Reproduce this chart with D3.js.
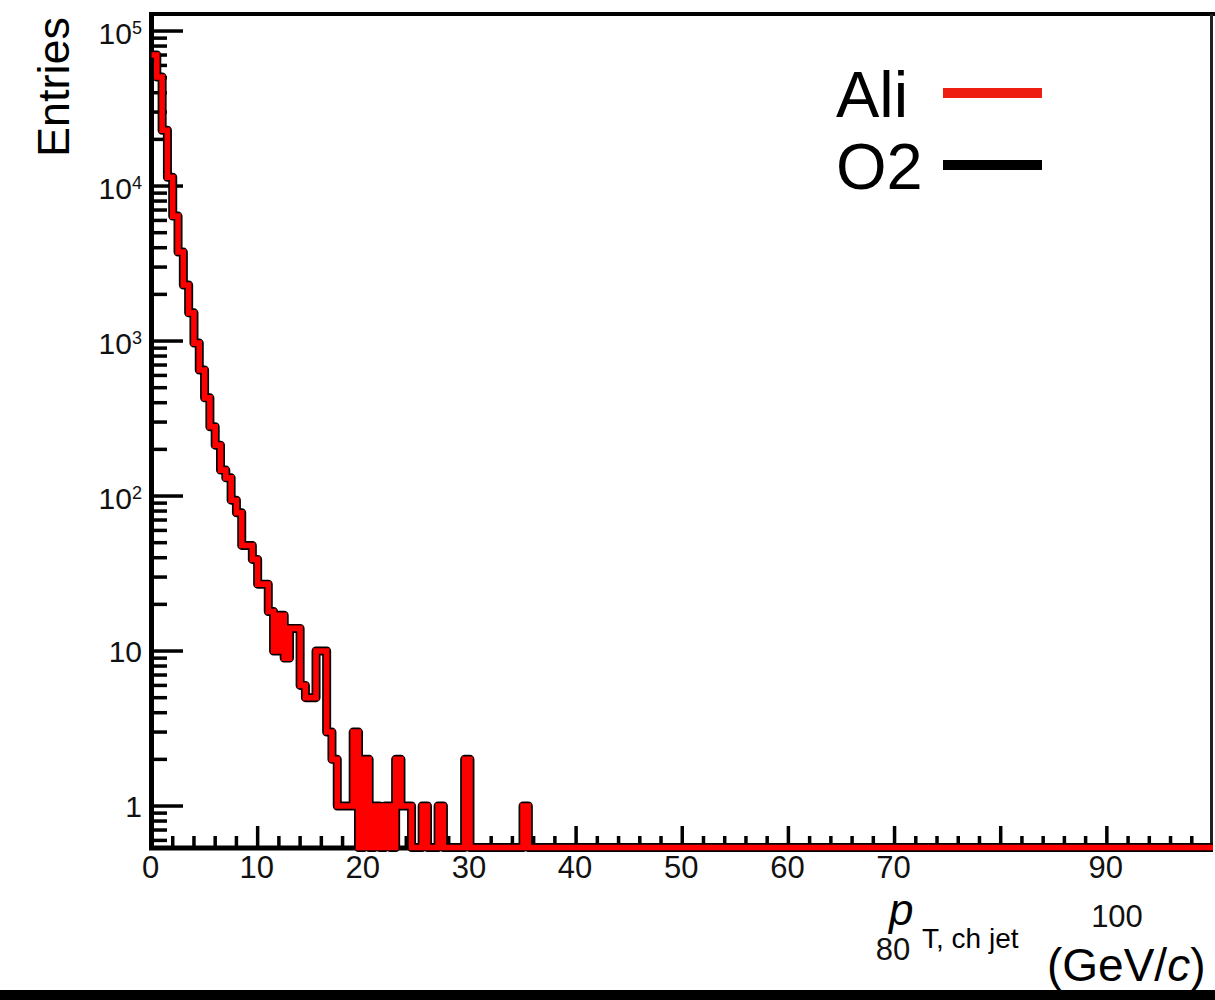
<!DOCTYPE html>
<html>
<head>
<meta charset="utf-8">
<script src="https://cdn.jsdelivr.net/npm/d3@7/dist/d3.min.js"></script>
<style>
  html, body { margin: 0; padding: 0; background: #fff; }
  svg { display: block; }
  text { font-family: "Liberation Sans", Arial, Helvetica, sans-serif; }
</style>
</head>
<body>
<svg id="chart" width="1215" height="1000"></svg>
<script>
// p_T, ch jet histogram, 0.5 GeV/c bins starting at 0 (bins past the list are empty)
const binWidth = 0.5;
const xDomain = [0, 100];
const yDomain = [0.54, 128800];

const aliCounts = [
  70000, 50500, 22900, 11400, 6400, 3750, 2300, 1520, 970, 650,
  430, 280, 213, 147, 131, 94, 78, 48, 48, 39,
  27, 27, 18, 10, 17, 9, 14, 14, 6, 5,
  5, 10, 10, 3, 2, 1, 1, 1, 3, 0,
  2, 0, 1, 0, 1, 0, 2, 1, 1, 0,
  0, 1, 0, 0, 1, 0, 0, 0, 0, 2,
  0, 0, 0, 0, 0, 0, 0, 0, 0, 0,
  1
];
const o2Counts = [
  70000, 50500, 22900, 11400, 6400, 3750, 2300, 1520, 970, 650,
  430, 280, 213, 147, 131, 94, 78, 48, 48, 39,
  27, 27, 18, 10, 17, 9, 14, 14, 6, 5,
  5, 10, 10, 3, 2, 1, 1, 1, 3, 0,
  2, 0, 1, 0, 1, 0, 2, 1, 1, 0,
  0, 1, 0, 0, 1, 0, 0, 0, 0, 2,
  0, 0, 0, 0, 0, 0, 0, 0, 0, 0,
  1
];

const seriesNames = ['Ali', 'O2'];
const xMajorTicks = [0, 10, 20, 30, 40, 50, 60, 70, 80, 90, 100];
const xTickLabels = ['0', '10', '20', '30', '40', '50', '60', '70', '80', '90', '100'];
const yMajorTicks = [1, 10, 100, 1000, 10000, 100000];
const yTickBase = ['1', '10', '10', '10', '10', '10'];
const yTickExp = ['', '', '2', '3', '4', '5'];

const svg = d3.select('#chart');

const x = d3.scaleLinear().domain(xDomain).range([151.5, 1213]);
const y = d3.scaleLog().domain(yDomain).range([847.5, 14]);

const yOf = v => y(Math.max(v, yDomain[0]));

// step outline of a histogram, zero bins sit on the lower edge
function histPoints(counts) {
  const nBins = Math.round((xDomain[1] - xDomain[0]) / binWidth);
  const pts = [];
  for (let i = 0; i < nBins; i++) {
    pts.push([xDomain[0] + i * binWidth, counts[i] || 0]);
  }
  pts.push([xDomain[1], counts[nBins - 1] || 0]);
  return pts;
}

const line = d3.line()
  .x(d => x(d[0]))
  .y(d => yOf(d[1]))
  .curve(d3.curveStepAfter);

// frame
const frame = svg.append('g');
frame.append('line').attr('x1', 150).attr('x2', 1215).attr('y1', 14).attr('y2', 14)
  .attr('stroke', '#000').attr('stroke-width', 4);
frame.append('line').attr('x1', 1211.5).attr('x2', 1211.5).attr('y1', 14).attr('y2', 848)
  .attr('stroke', '#222').attr('stroke-width', 3);

// axes lines + ticks (drawn under the histograms)
const axes = svg.append('g').attr('stroke', '#000').attr('stroke-width', 3.5);
axes.append('line').attr('x1', 151.5).attr('x2', 151.5).attr('y1', 12).attr('y2', 850)
  .attr('stroke-width', 5);
axes.append('line').attr('x1', 149).attr('x2', 1213).attr('y1', 848).attr('y2', 848)
  .attr('stroke-width', 5);

const xMinor = d3.range(xDomain[0], xDomain[1] + 0.001, 2).filter(v => v % 10 !== 0);
axes.selectAll('.xmaj').data(xMajorTicks.filter(v => v > 0 && v < 100)).join('line')
  .attr('x1', d => x(d)).attr('x2', d => x(d))
  .attr('y1', 847.5).attr('y2', 826);
axes.selectAll('.xmin').data(xMinor).join('line')
  .attr('x1', d => x(d)).attr('x2', d => x(d))
  .attr('y1', 847.5).attr('y2', 836);

const yMinor = [];
[0.1, 1, 10, 100, 1000, 10000].forEach(dec => {
  for (let k = 2; k <= 9; k++) {
    const v = dec * k;
    if (v > yDomain[0] && v < yDomain[1]) yMinor.push(v);
  }
});
axes.selectAll('.ymaj').data(yMajorTicks).join('line')
  .attr('x1', 151.5).attr('x2', 183)
  .attr('y1', d => y(d)).attr('y2', d => y(d));
axes.selectAll('.ymin').data(yMinor).join('line')
  .attr('x1', 151.5).attr('x2', 167)
  .attr('y1', d => y(d)).attr('y2', d => y(d));

// histograms: O2 underneath (thick black), Ali on top (red)
svg.append('path')
  .attr('d', line(histPoints(o2Counts)))
  .attr('fill', 'none')
  .attr('stroke', '#000')
  .attr('stroke-width', 9)
  .attr('stroke-linejoin', 'round');
svg.append('path')
  .attr('d', line(histPoints(aliCounts)))
  .attr('fill', 'none')
  .attr('stroke', '#ff0000')
  .attr('stroke-width', 5.6)
  .attr('stroke-linejoin', 'miter');

// x tick labels (80 and 100 are displaced in the original)
const xLabelPos = { '80': [893, 960], '100': [1117, 927] };
svg.append('g').selectAll('text').data(xMajorTicks).join('text')
  .attr('x', (d, i) => xLabelPos[xTickLabels[i]] ? xLabelPos[xTickLabels[i]][0] : x(d) - 1)
  .attr('y', (d, i) => xLabelPos[xTickLabels[i]] ? xLabelPos[xTickLabels[i]][1] : 878)
  .attr('text-anchor', 'middle')
  .attr('font-size', 31)
  .attr('fill', '#111')
  .text((d, i) => xTickLabels[i]);

// y tick labels
const yLab = svg.append('g').selectAll('text').data(yMajorTicks).join('text')
  .attr('x', 142)
  .attr('y', (d, i) => y(d) + (yTickExp[i] ? 13 : 11))
  .attr('text-anchor', 'end')
  .attr('font-size', 30)
  .attr('fill', '#111');
yLab.append('tspan').text((d, i) => yTickBase[i]);
yLab.filter((d, i) => yTickExp[i] !== '').append('tspan')
  .attr('dy', -10)
  .attr('font-size', 18)
  .text(d => yTickExp[yMajorTicks.indexOf(d)]);

// y axis title
svg.append('text')
  .attr('transform', 'translate(69,17) rotate(-90)')
  .attr('text-anchor', 'end')
  .attr('font-size', 45)
  .attr('fill', '#000')
  .text('Entries');

// x axis title
const xt = svg.append('g').attr('fill', '#000');
xt.append('text').attr('x', 889).attr('y', 925)
  .attr('font-size', 44).attr('font-style', 'italic').text('p');
xt.append('text').attr('x', 922).attr('y', 948)
  .attr('font-size', 28).text('T, ch jet');
const unit = xt.append('text').attr('x', 1047).attr('y', 981).attr('font-size', 46);
unit.append('tspan').text('(GeV/');
unit.append('tspan').attr('font-style', 'italic').text('c');
unit.append('tspan').text(')');

// legend
const legendColors = ['#ee1f10', '#000'];
const leg = svg.append('g').selectAll('g').data(seriesNames).join('g')
  .attr('transform', (d, i) => `translate(0, ${i * 72})`);
leg.append('text').attr('x', 836).attr('y', 117)
  .attr('font-size', 65).attr('fill', '#000').text(d => d);
leg.append('line').attr('x1', 943).attr('x2', 1042).attr('y1', 93).attr('y2', 93)
  .attr('stroke', (d, i) => legendColors[i]).attr('stroke-width', 10);

// black strip at the bottom of the picture
svg.append('rect').attr('x', 0).attr('y', 990).attr('width', 1215).attr('height', 10).attr('fill', '#000');
</script>
</body>
</html>
